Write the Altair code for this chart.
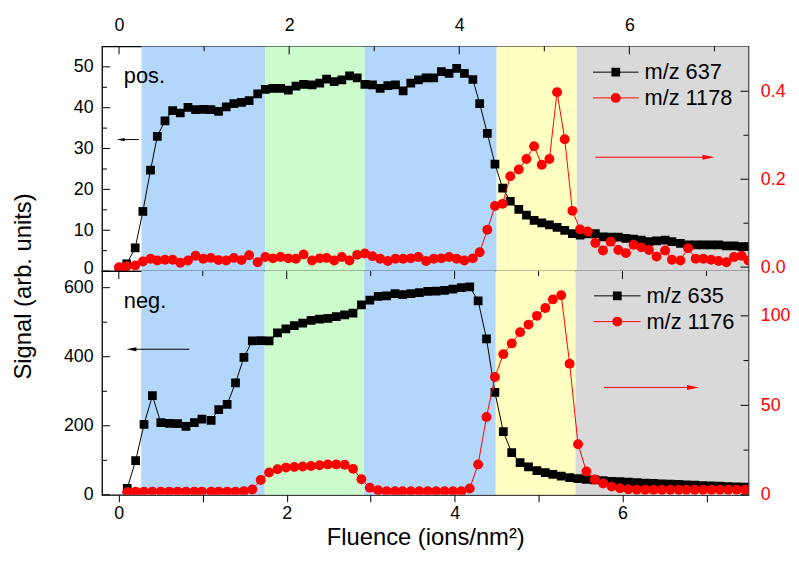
import altair as alt
import pandas as pd

# ---------------- data ----------------
# upper panel (positive ions)
top_x = [0.00, 0.09, 0.19, 0.28, 0.37, 0.45, 0.54, 0.63, 0.72, 0.81,
         0.90, 0.99, 1.08, 1.17, 1.26, 1.35, 1.44, 1.53, 1.63, 1.72,
         1.81, 1.90, 1.99, 2.08, 2.17, 2.27, 2.36, 2.44, 2.53, 2.62,
         2.71, 2.80, 2.89, 2.98, 3.07, 3.16, 3.25, 3.34, 3.43, 3.52,
         3.61, 3.70, 3.79, 3.88, 3.97, 4.06, 4.16, 4.24, 4.33, 4.42,
         4.51, 4.60, 4.70, 4.79, 4.88, 4.97, 5.06, 5.15, 5.24, 5.33,
         5.42, 5.51, 5.60, 5.69, 5.78, 5.87, 5.96, 6.05, 6.14, 6.23,
         6.32, 6.42, 6.50, 6.60, 6.69, 6.78, 6.87, 6.96, 7.05, 7.14,
         7.23, 7.32, 7.40]
top_637 = [0.5, 1.8, 5.7, 14.6, 24.7, 33.0, 36.8, 39.3, 38.7, 40.1,
           39.5, 39.6, 39.5, 39.1, 40.2, 41.0, 41.3, 41.7, 43.4, 44.5,
           44.7, 44.7, 44.3, 45.3, 45.7, 45.6, 46.0, 47.0, 46.4, 46.8,
           47.8, 47.3, 45.7, 45.6, 44.7, 45.4, 45.6, 44.1, 46.0, 46.8,
           47.3, 47.3, 48.8, 48.4, 49.6, 48.4, 46.9, 41.0, 33.7, 26.2,
           20.3, 17.1, 15.1, 13.7, 12.4, 11.8, 11.3, 10.7, 10.0, 9.2,
           8.8, 9.1, 9.2, 8.4, 8.3, 8.3, 8.0, 7.8, 7.6, 7.2,
           7.4, 7.6, 7.2, 6.8, 6.4, 6.4, 6.4, 6.4, 6.4, 6.2,
           6.2, 6.0, 6.0]
top_1178 = [0.000, 0.002, 0.004, 0.013, 0.019, 0.015, 0.017, 0.017, 0.010, 0.015,
            0.026, 0.019, 0.021, 0.016, 0.015, 0.021, 0.016, 0.027, 0.011, 0.023,
            0.020, 0.023, 0.020, 0.019, 0.029, 0.015, 0.020, 0.021, 0.015, 0.023,
            0.015, 0.028, 0.031, 0.025, 0.019, 0.014, 0.019, 0.019, 0.020, 0.023,
            0.014, 0.019, 0.020, 0.023, 0.019, 0.015, 0.020, 0.034, 0.085, 0.139,
            0.144, 0.207, 0.222, 0.246, 0.275, 0.233, 0.246, 0.398, 0.291, 0.128,
            0.086, 0.081, 0.055, 0.038, 0.058, 0.039, 0.032, 0.051, 0.045, 0.039,
            0.024, 0.038, 0.017, 0.015, 0.043, 0.019, 0.019, 0.017, 0.014, 0.011,
            0.023, 0.026, 0.015]

# lower panel (negative ions)
bot_x = [0.10, 0.20, 0.30, 0.40, 0.50, 0.60, 0.70, 0.80, 0.90, 0.99,
         1.10, 1.19, 1.29, 1.39, 1.49, 1.59, 1.69, 1.79, 1.89, 1.99,
         2.09, 2.19, 2.29, 2.39, 2.49, 2.59, 2.69, 2.79, 2.89, 2.99,
         3.09, 3.19, 3.29, 3.38, 3.48, 3.58, 3.68, 3.78, 3.88, 3.98,
         4.08, 4.18, 4.28, 4.38, 4.48, 4.58, 4.68, 4.78, 4.88, 4.98,
         5.08, 5.17, 5.27, 5.37, 5.47, 5.57, 5.67, 5.77, 5.87, 5.97,
         6.07, 6.17, 6.27, 6.37, 6.47, 6.57, 6.67, 6.76, 6.86, 6.96,
         7.06, 7.16, 7.26, 7.36, 7.46]
bot_635 = [19, 99, 204, 287, 209, 207, 206, 198, 209, 219,
           216, 247, 262, 324, 398, 446, 447, 446, 469, 481,
           490, 497, 505, 509, 511, 516, 521, 526, 550, 564,
           575, 576, 583, 580, 583, 586, 589, 590, 592, 596,
           600, 602, 562, 452, 297, 183, 122, 93, 81, 70,
           64, 59, 54, 50, 47, 45, 43, 41, 39, 38,
           37, 35, 34, 33, 32, 31, 30, 29, 28, 27,
           26, 25, 24, 23, 22]
bot_1176 = [1.5, 1.8, 1.8, 1.8, 1.8, 1.8, 1.8, 1.8, 1.8, 1.8,
            1.8, 1.8, 1.8, 1.8, 2.0, 3.0, 8.3, 12.5, 14.3, 15.2,
            15.6, 15.8, 16.1, 16.5, 17.0, 17.0, 16.8, 14.5, 8.7, 4.0,
            2.6, 2.0, 2.0, 2.0, 2.0, 2.0, 2.0, 2.0, 2.0, 2.0,
            2.0, 3.5, 17.0, 43.5, 65.8, 78.6, 84.6, 90.9, 95.1, 100.0,
            104.4, 109.2, 111.5, 73.3, 28.3, 13.0, 8.6, 6.3, 4.6, 3.7,
            3.1, 2.8, 2.8, 2.8, 2.8, 2.8, 2.8, 2.8, 2.8, 2.8,
            2.8, 2.8, 2.8, 2.8, 2.8]

# shaded fluence regions
band_names = ["blue", "green", "blue", "yellow", "gray"]
top_band_edges = [0.264, 1.717, 2.888, 4.44, 5.38, 7.4]
bot_band_edges = [0.267, 1.738, 2.922, 4.49, 5.44, 7.5]
band_domain = ["blue", "green", "yellow", "gray"]
band_range = ["#B3D7FB", "#CCFCCC", "#FFFFC2", "#D9D9D9"]

FONT = "Liberation Sans"
W = 653
ARROW_R = "M-1,-0.42L1,0L-1,0.42Z"
ARROW_L = "M1,-0.42L-1,0L1,0.42Z"


def xenc(field, xdom, orient):
    if orient == "top":
        axis = alt.Axis(orient="top", values=[0, 2, 4, 6], ticks=False, domain=False,
                        grid=False, labelPadding=12, title=None)
    else:
        axis = alt.Axis(orient="bottom", values=[0, 1, 2, 3, 4, 5, 6, 7],
                        labelExpr="datum.value % 2 == 0 ? datum.label : ''",
                        tickSize=7, tickColor="black", tickWidth=1,
                        domain=False, grid=False, labelPadding=3,
                        title="Fluence (ions/nm²)", titlePadding=3)
    return alt.X(f"{field}:Q", scale=alt.Scale(domain=xdom, nice=False, zero=False), axis=axis)


def yenc(field, dom, axis):
    return alt.Y(f"{field}:Q", scale=alt.Scale(domain=dom, nice=False, zero=False), axis=axis)


def panel(H, xdom, orient, edges, xs, yb, yr, lab_b, lab_r, tag,
          ldom, lvals, lmajor, lminor, ltitle, rdom, rvals, rmajor, rminor, rfmt,
          b_arrow, r_arrow, leg_rows, leg_x):
    X = lambda f: xenc(f, xdom, orient)

    bands_df = pd.DataFrame({"band": band_names, "x0": edges[:-1], "x1": edges[1:]})
    bands = alt.Chart(bands_df).mark_rect().encode(
        x=X("x0"), x2="x1", y=alt.value(0), y2=alt.value(H),
        color=alt.Color("band:N", scale=alt.Scale(domain=band_domain, range=band_range), legend=None))

    xt_major = alt.Chart(pd.DataFrame({"t": [0, 2, 4, 6]})).mark_rule(color="black", strokeWidth=1).encode(
        x=X("t"), y=alt.value(0), y2=alt.value(8))
    xt_minor = alt.Chart(pd.DataFrame({"t": [1, 3, 5, 7]})).mark_rule(color="black", strokeWidth=1).encode(
        x=X("t"), y=alt.value(0), y2=alt.value(5))

    # left (black) scale
    l_axis_kw = dict(orient="left", values=lvals, ticks=False, domain=False, grid=False, labelPadding=9)
    if ltitle:
        l_axis = alt.Axis(title=ltitle, titlePadding=28, titleY=15, **l_axis_kw)
    else:
        l_axis = alt.Axis(title=None,
                          labelOffset={"condition": {"test": "datum.value == 0", "value": -3}, "value": 0},
                          **l_axis_kw)
    YL = lambda f: yenc(f, ldom, l_axis)

    df_b = pd.DataFrame({"x": xs, "v": yb})
    b_series = alt.Chart(df_b).mark_line(
        color="black", strokeWidth=1, clip=True,
        point=alt.OverlayMarkDef(shape="square", size=78, filled=True, color="black", opacity=1, clip=True)
    ).encode(x=X("x"), y=YL("v"))
    lt_major = alt.Chart(pd.DataFrame({"v": lmajor})).mark_rule(color="black").encode(
        y=YL("v"), x=alt.value(0), x2=alt.value(8))
    lt_minor = alt.Chart(pd.DataFrame({"v": lminor})).mark_rule(color="black").encode(
        y=YL("v"), x=alt.value(0), x2=alt.value(5))
    b_arr_line = alt.Chart(pd.DataFrame({"x": [b_arrow[0]], "x2": [b_arrow[1]], "v": [b_arrow[2]]})).mark_rule(
        color="black", strokeWidth=1).encode(x=X("x"), x2="x2", y=YL("v"))
    b_arr_head = alt.Chart(pd.DataFrame({"x": [b_arrow[0]], "v": [b_arrow[2]]})).mark_point(
        shape=ARROW_L, filled=True, size=b_arrow[3], color="black", opacity=1).encode(x=X("x"), y=YL("v"))
    black_group = alt.layer(lt_major, lt_minor, b_arr_line, b_arr_head, b_series)

    # right (red) scale
    r_axis = alt.Axis(orient="right", values=rvals, format=rfmt, ticks=False, domain=False, grid=False,
                      labelPadding=12, labelColor="red", title=None)
    YR = lambda f: yenc(f, rdom, r_axis)
    df_r = pd.DataFrame({"x": xs, "v": yr})
    r_series = alt.Chart(df_r).mark_line(
        color="red", strokeWidth=1, clip=True,
        point=alt.OverlayMarkDef(shape="circle", size=100, filled=True, color="red", opacity=1, clip=True)
    ).encode(x=X("x"), y=YR("v"))
    rt_major = alt.Chart(pd.DataFrame({"v": rmajor})).mark_rule(color="black").encode(
        y=YR("v"), x=alt.value(W - 8), x2=alt.value(W))
    rt_minor = alt.Chart(pd.DataFrame({"v": rminor})).mark_rule(color="black").encode(
        y=YR("v"), x=alt.value(W - 5), x2=alt.value(W))
    r_arr_line = alt.Chart(pd.DataFrame({"x": [r_arrow[0]], "x2": [r_arrow[1]], "v": [r_arrow[2]]})).mark_rule(
        color="red", strokeWidth=1).encode(x=X("x"), x2="x2", y=YR("v"))
    r_arr_head = alt.Chart(pd.DataFrame({"x": [r_arrow[1]], "v": [r_arrow[2]]})).mark_point(
        shape=ARROW_R, filled=True, size=r_arrow[3], color="red", opacity=1).encode(x=X("x"), y=YR("v"))
    red_group = alt.layer(rt_major, rt_minor, r_arr_line, r_arr_head, r_series)

    # legend (drawn manually)
    legend = []
    one = pd.DataFrame({"k": [0]})
    for (label, col, shape, size), yy in zip([(lab_b, "black", "square", 78), (lab_r, "red", "circle", 100)], leg_rows):
        legend.append(alt.Chart(one).mark_rule(color=col, strokeWidth=1).encode(
            x=alt.value(leg_x[0]), x2=alt.value(leg_x[1]), y=alt.value(yy)))
        legend.append(alt.Chart(one).mark_point(shape=shape, size=size, filled=True, color=col, opacity=1).encode(
            x=alt.value((leg_x[0] + leg_x[1]) / 2), y=alt.value(yy)))
        legend.append(alt.Chart(one).mark_text(align="left", baseline="middle", font=FONT, fontSize=22,
                                               color="black").encode(
            x=alt.value(leg_x[1] + 6), y=alt.value(yy), text=alt.value(label)))

    tag_mark = alt.Chart(one).mark_text(align="left", baseline="middle", font=FONT, fontSize=22,
                                        color="black").encode(
        x=alt.value(22), y=alt.value(30), text=alt.value(tag))

    return alt.layer(bands, xt_major, xt_minor, black_group, red_group, *legend, tag_mark).resolve_scale(
        y="independent").properties(width=W, height=H)


top = panel(227, [-0.2, 7.4], "top", top_band_edges, top_x, top_637, top_1178,
            "m/z 637", "m/z 1178", "pos.",
            [0, 55], [0, 10, 20, 30, 40, 50], [0, 10, 20, 30, 40, 50], [5, 15, 25, 35, 45], None,
            [-0.009, 0.502], [0.0, 0.2, 0.4], [0.0, 0.2, 0.4], [0.1, 0.3], ".1f",
            (0.02, 0.233, 32.2, 64), (5.60, 6.93, 0.25, 144), [26, 52], [496, 542])

bottom = panel(226, [-0.2, 7.5], "bottom", bot_band_edges, bot_x, bot_635, bot_1176,
               "m/z 635", "m/z 1176", "neg.",
               [0, 648], [0, 200, 400, 600], [0, 200, 400, 600], [100, 300, 500], "Signal (arb. units)",
               [0, 125], [0, 50, 100], [0, 50, 100], [25, 75], "d",
               (0.15, 0.84, 421.7, 100), (5.78, 6.84, 60, 144), [25, 51], [497, 544])

chart = alt.vconcat(top, bottom, spacing=0, bounds="flush").properties(
    padding={"left": 3, "top": 5, "right": 0, "bottom": 3}
).configure_axis(
    labelFont=FONT, titleFont=FONT, labelFontSize=18, titleFontSize=24,
    titleFontWeight="normal", labelColor="black", titleColor="black"
).configure_view(stroke="black", strokeWidth=1.3)

chart.save("out.html", embed_options={"renderer": "svg", "actions": False})
